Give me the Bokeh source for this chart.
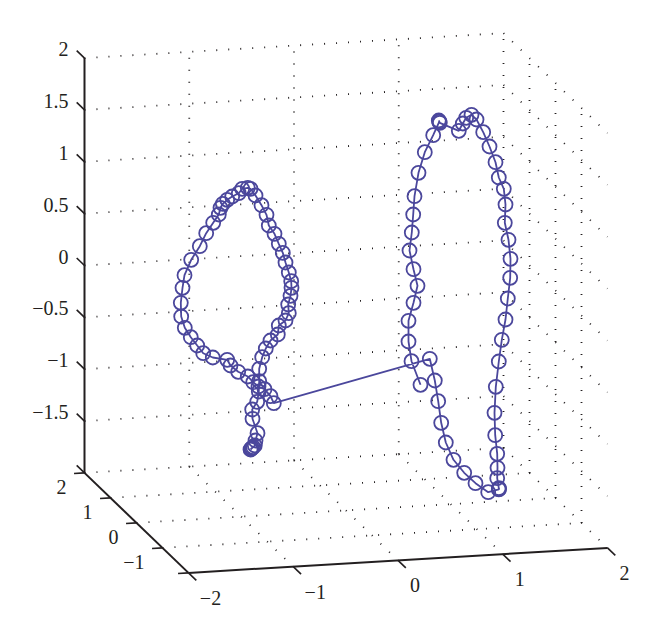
from bokeh.plotting import figure
from bokeh.models import Range1d
from bokeh.core.properties import value
from bokeh.embed import file_html
from bokeh.resources import INLINE

x_ticks = [-2, -1, 0, 1, 2]
y_ticks = [-2, -1, 0, 1, 2]
z_ticks = [-2, -1.5, -1, -0.5, 0, 0.5, 1, 1.5, 2]
z_labels = ["\u22122", "\u22121.5", "\u22121", "\u22120.5", "0", "0.5", "1", "1.5", "2"]

# Trajectory as read on the projection plane of the picture
path_h = [250, 250.7, 251.5, 252.7, 254.3, 255, 257, 252, 251.7, 256.7, 258.3, 258.7, 258.7,
          261.7, 265.3, 270, 277.3, 278.3, 285, 288.3, 287.7, 290, 291, 290.7, 288.3, 285,
          282.3, 278.3, 274, 268.3, 266, 261, 255, 250, 247.3, 241.7, 238.3, 231.7, 226.7,
          222.3, 220, 218.3, 212.7, 205.7, 199.3, 190.7, 184, 182, 180.3, 180.7, 184.3,
          190.3, 196.7, 202.7, 212.3, 226.7, 230, 237.7, 247.3, 252.7, 258, 264, 270, 273.3,
          429.3, 434.3, 437.7, 440.7, 445.3, 453, 463.7, 475, 487.7, 498.3, 498.6, 498.3,
          496.7, 497, 496.7, 494.7, 494, 495.3, 498.3, 501.3, 505, 507.3, 509.7, 510, 508,
          504.3, 505, 503.3, 498.3, 495, 489, 482.7, 476, 471, 465.7, 462.3, 458.3, 439.3,
          438.3, 438.8, 432.7, 424.3, 418, 414, 412.7, 411.3, 409, 413, 417, 413, 408, 408,
          411, 420]
path_v = [449, 448.3, 447.5, 446.7, 445, 440, 432.7, 418.3, 409, 401.3, 391, 380.7, 368.3,
          356.7, 348, 340, 334, 325, 320, 312.7, 304, 295.3, 287.3, 280.7, 272, 262,
          252.3, 243.3, 233.3, 225, 214.3, 204.7, 195, 188.3, 187.3, 188.3, 192.7, 196, 199.3,
          203.3, 207.3, 214, 222.3, 232.7, 245.7, 259.3, 274.7, 287.3, 302.3, 316, 327.3,
          336.7, 345, 352.7, 357, 359.3, 365, 371.3, 376, 381.7, 386, 388.7, 395.7, 402.7,
          358.3, 380, 400.7, 422.3, 442, 459.3, 472.3, 482.7, 491.7, 488.9, 488.3, 487.6,
          477.7, 467.3, 453.3, 434.7, 412.3, 386.3, 361, 339.3, 319, 298, 277.3, 258.3, 239.3,
          222.3, 204, 188.3, 177, 161.7, 146, 131.7, 119, 114.3, 117.3, 123, 130.3, 122.3,
          120, 121.2, 134.7, 151.7, 172.3, 195.7, 214, 232, 250, 268.7, 285.3, 302.3, 320.3, 341,
          360.7, 384.3]

INK = "#231f20"
BLUE = "#4b479c"
FONT = "Liberation Serif"
LABEL_SIZE = "20px"


def proj(x, y, z):
    """Orthographic view of the axes box, in page pixels."""
    return (345.5 + 104.75 * x - 26 * y,
            302.5 - 6.25 * x - 25 * y - 103.7 * z)


p = figure(width=644, height=619, output_backend="svg", toolbar_location=None,
           x_range=Range1d(0, 644), y_range=Range1d(619, 0), min_border=0)
p.xaxis.visible = False
p.yaxis.visible = False
p.grid.visible = False
p.outline_line_color = None


def seg(a, b, solid=False, w=None):
    xs, ys = zip(proj(*a), proj(*b))
    if solid:
        p.line(xs, ys, line_color=INK, line_width=w or 1.5)
    else:
        p.line(xs, ys, line_color=INK, line_width=1.8, line_dash="1 11")


# dotted grid
for z in z_ticks:
    seg((-2, 2, z), (2, 2, z))
    seg((2, 2, z), (2, -2, z))
for x in x_ticks:
    if x > -2:
        seg((x, 2, -2), (x, 2, 2))
    if -2 < x < 2:
        seg((x, 2, -2), (x, -2, -2))
for y in y_ticks:
    if -2 < y < 2:
        seg((2, y, -2), (2, y, 2))
        seg((-2, y, -2), (2, y, -2))

# axes
seg((-2, 2, -2), (-2, 2, 2), True, 2)
seg((-2, 2, -2), (-2, -2, -2), True, 2)
seg((-2, -2, -2), (2, -2, -2), True, 2)

# ticks and labels
for x in x_ticks:
    seg((x, -2, -2), (x, -2.3, -2), True, 1.6)
    hx, hy = proj(x, -2, -2)
    lab = str(x).replace("-", "\u2212")
    p.text([hx + (22 if x < 0 else 17)], [hy + 25], text=[lab], text_font=value(FONT),
           text_font_size=LABEL_SIZE, text_color=INK, text_align="center", text_baseline="middle")
for y in y_ticks:
    seg((-2, y, -2), (-2.1, y, -2), True, 1.6)
    if y > -2:
        hx, hy = proj(-2, y, -2)
        lab = str(y).replace("-", "\u2212")
        p.text([hx - 18], [hy + 14], text=[lab], text_font=value(FONT),
               text_font_size=LABEL_SIZE, text_color=INK, text_align="right", text_baseline="middle")
for z, lab in zip(z_ticks, z_labels):
    seg((-2, 2, z), (-2, 2.3, z), True, 1.6)
    if z > -2:
        hx, hy = proj(-2, 2, z)
        p.text([hx - 16], [hy - 9], text=[lab], text_font=value(FONT),
               text_font_size=LABEL_SIZE, text_color=INK, text_align="right", text_baseline="middle")

# trajectory
p.line(path_h, path_v, line_color=BLUE, line_width=1.8)
p.scatter(path_h, path_v, marker="circle", size=14, fill_color=None,
          line_color=BLUE, line_width=1.8)

open("out.html", "w").write(file_html(p, INLINE))
